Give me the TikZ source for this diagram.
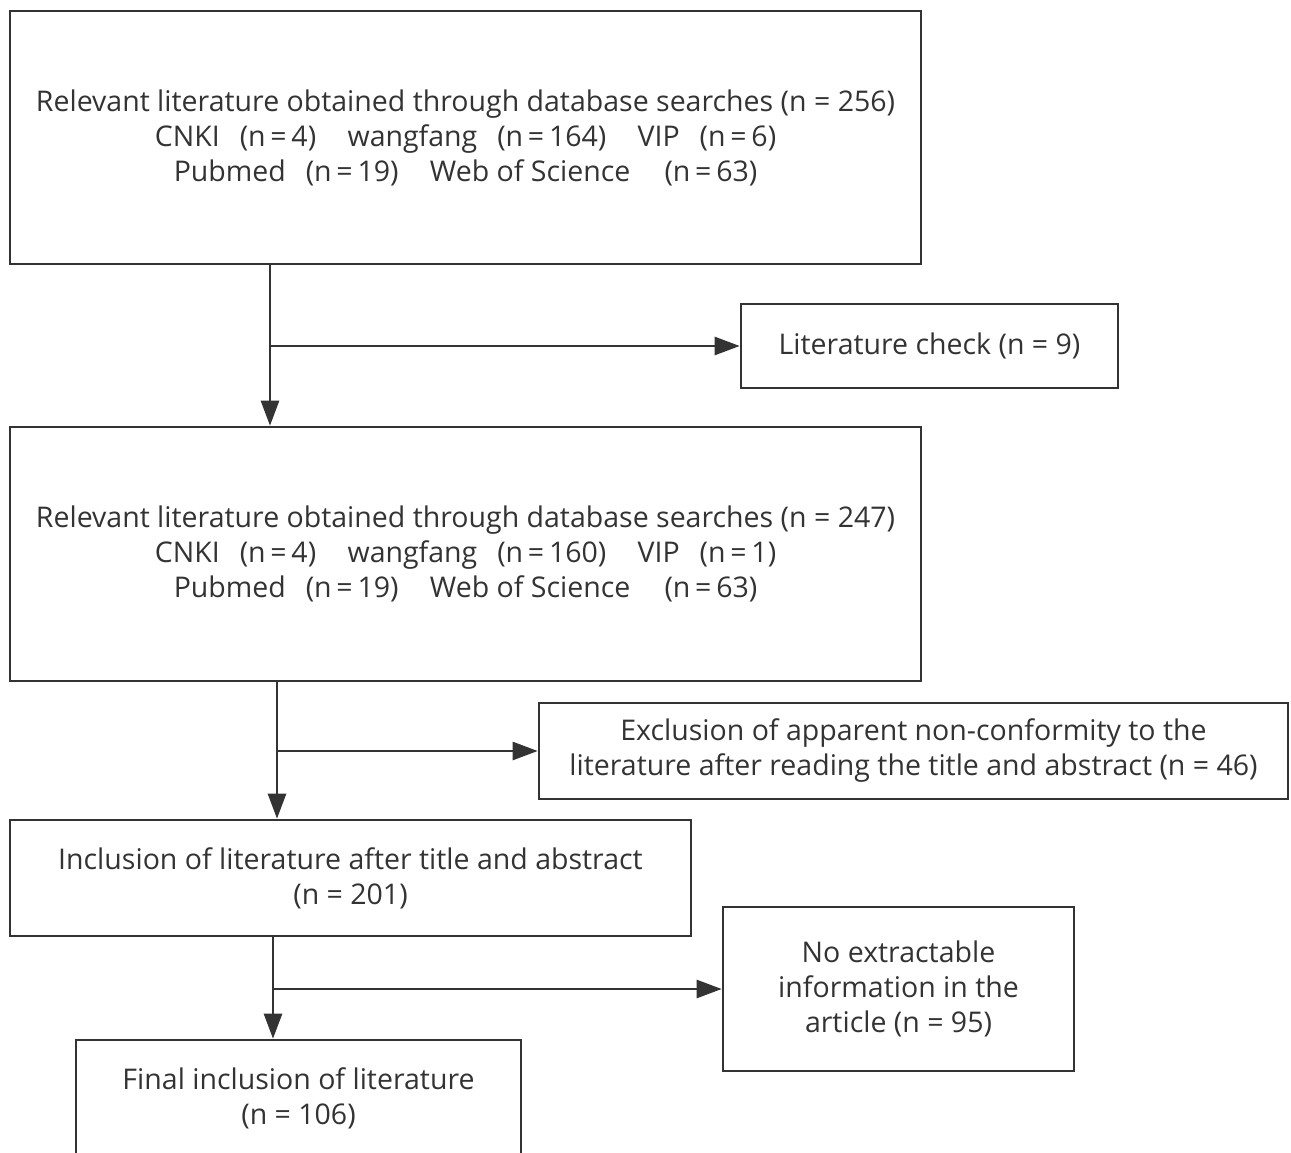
\documentclass[tikz,border=0pt]{standalone}
\usepackage{fontspec}
\setmainfont{Open Sans}
\usepackage{tikz}
\usetikzlibrary{arrows.meta}
\definecolor{ink}{HTML}{333333}
\newcommand{\eqn}[1]{(n\,=\,#1)}
\tikzset{
    every node/.style={align=center,text=ink,font=\fontsize{28.5}{35}\selectfont},
    box/.style={draw=ink,line width=2.6pt,rectangle,inner sep=0pt,},
    arr/.style={draw=ink,line width=2.6pt,-{Triangle[length=25pt,width=18pt]}},
}

\begin{document}
\begin{tikzpicture}[x=1pt,y=-1pt]
                \useasboundingbox (0,0) rectangle (1291,1153);
                \clip (0,0) rectangle (1291,1153);

                \node[box,minimum width=911pt,minimum height=253pt] (rel1) at (465.5,137.5)
                    {Relevant literature obtained through database searches (n = 256)\\
                     CNKI\hspace{0.7em}\eqn{4}\hspace{1.1em}wangfang\hspace{0.7em}\eqn{164}\hspace{1.1em}VIP\hspace{0.7em}\eqn{6}\\
                     Pubmed\hspace{0.7em}\eqn{19}\hspace{1.1em}Web of Science\hspace{1.2em}\eqn{63}};
                \node[box,minimum width=377pt,minimum height=84pt] (check) at (929.5,346) {Literature check (n = 9)};

                \node[box,minimum width=911pt,minimum height=254pt] (rel2) at (465.5,554)
                    {Relevant literature obtained through database searches (n = 247)\\
                     CNKI\hspace{0.7em}\eqn{4}\hspace{1.1em}wangfang\hspace{0.7em}\eqn{160}\hspace{1.1em}VIP\hspace{0.7em}\eqn{1}\\
                     Pubmed\hspace{0.7em}\eqn{19}\hspace{1.1em}Web of Science\hspace{1.2em}\eqn{63}};
                \node[box,minimum width=749pt,minimum height=96pt] (excl) at (913.5,751)
                    {Exclusion of apparent non-conformity to the\\literature after reading the title and abstract (n = 46)};

                \node[box,minimum width=681pt,minimum height=116pt] (incl) at (350.5,878)
                    {Inclusion of literature after title and abstract\\(n = 201)};
                \node[box,minimum width=351pt,minimum height=164pt] (noinfo) at (898.5,989)
                    {No extractable\\information in the\\article (n = 95)};

                \node[box,minimum width=445pt,minimum height=117pt] (final) at (298.5,1098.5)
                    {Final inclusion of literature\\(n = 106)};

                % branch points
                \coordinate (b1) at (270,346);
                \coordinate (b2) at (277,751);
                \coordinate (b3) at (273,989);

                \draw[arr] (rel1.south -| b1) to (rel2.north -| b1);
                \draw[arr] (b1) to (check.west);

                \draw[arr] (rel2.south -| b2) to (incl.north -| b2);
                \draw[arr] (b2) to (excl.west);

                \draw[arr] (incl.south -| b3) to (final.north -| b3);
                \draw[arr] (b3) to (noinfo.west);
            \end{tikzpicture}
\end{document}
